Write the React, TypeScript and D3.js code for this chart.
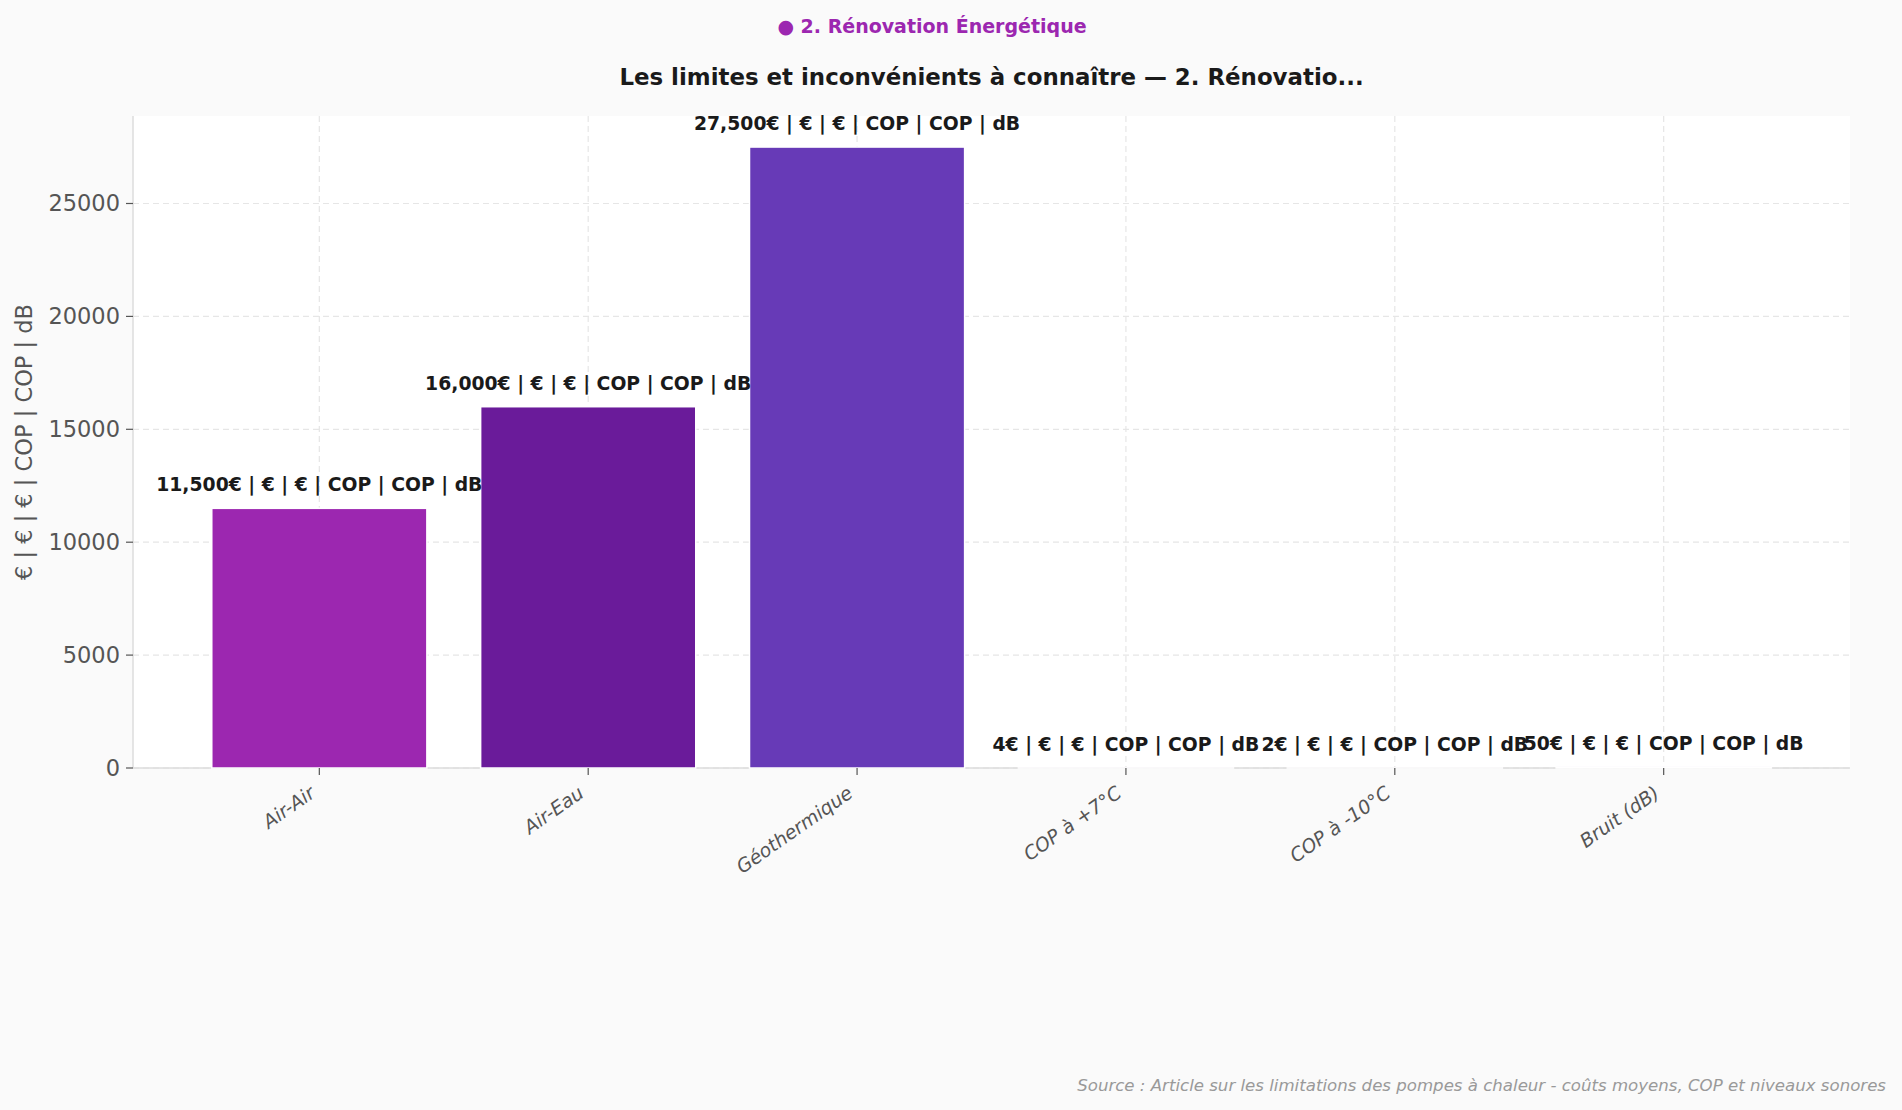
import * as d3 from "d3";
import React from "react";

const categories = ["Air-Air", "Air-Eau", "Géothermique", "COP à +7°C", "COP à -10°C", "Bruit (dB)"];
const values = [11500, 16000, 27500, 4, 2, 50];
const barColors = ["#9c27b0", "#6a1b9a", "#673ab7", "#7b1fa2", "#8e24aa", "#512da8"];
const units = ["€", "€", "€", "COP", "COP", "dB"];
const yTicks = [0, 5000, 10000, 15000, 20000, 25000];

const subtitle = "● 2. Rénovation Énergétique";
const title = "Les limites et inconvénients à connaître — 2. Rénovatio...";
const source = "Source : Article sur les limitations des pompes à chaleur - coûts moyens, COP et niveaux sonores";

export default function App() {
    const width = 1902;
    const height = 1110;
    const left = 133;
    const right = 1850;
    const top = 116;
    const bottom = 768;
    const font = "DejaVu Sans, sans-serif";

    const xScale = d3
        .scaleBand()
        .domain(categories)
        .range([left, right])
        .paddingInner(0.2)
        .paddingOuter(0.293);

    const yMax = d3.max(values) * 1.05;
    const yScale = d3.scaleLinear().domain([0, yMax]).range([bottom, top]);

    const fmt = d3.format(",");
    const unitText = units.join(" | ");
    const cx = (c) => xScale(c) + xScale.bandwidth() / 2;

    return (
        <svg
            width={width}
            height={height}
            style={{ position: "absolute", left: 0, top: 0, display: "block" }}
            fontFamily={font}
        >
            <rect x={0} y={0} width={width} height={height} fill="#fafafa" />
            <rect x={left} y={top} width={right - left} height={bottom - top} fill="#ffffff" />

            {/* grid */}
            {yTicks.map((t) => (
                <line key={"gy" + t} x1={left} x2={right} y1={yScale(t)} y2={yScale(t)}
                    stroke="#e6e6e6" strokeWidth={1.2} strokeDasharray="6,4" />
            ))}
            {categories.map((c) => (
                <line key={"gx" + c} x1={cx(c)} x2={cx(c)} y1={top} y2={bottom}
                    stroke="#e6e6e6" strokeWidth={1.2} strokeDasharray="6,4" />
            ))}

            {/* spines */}
            <line x1={left} x2={left} y1={top} y2={bottom} stroke="#dddddd" strokeWidth={1.5} />
            <line x1={left} x2={right} y1={bottom} y2={bottom} stroke="#dddddd" strokeWidth={1.5} />

            {/* bars */}
            {categories.map((c, i) => (
                <rect key={"b" + c}
                    x={xScale(c)}
                    y={yScale(values[i])}
                    width={xScale.bandwidth()}
                    height={bottom - yScale(values[i])}
                    fill={barColors[i]}
                    stroke="#ffffff"
                    strokeWidth={1.5}
                />
            ))}

            {/* bar labels */}
            {categories.map((c, i) => (
                <text key={"l" + c} x={cx(c)} y={yScale(values[i]) - 17}
                    textAnchor="middle" fontWeight="bold" fontSize={18.8} fill="#1a1a1a">
                    {fmt(values[i]) + unitText}
                </text>
            ))}

            {/* y axis */}
            {yTicks.map((t) => (
                <g key={"yt" + t}>
                    <line x1={left - 7} x2={left} y1={yScale(t)} y2={yScale(t)} stroke="#555" strokeWidth={1.2} />
                    <text x={left - 13} y={yScale(t)} dy="0.35em" textAnchor="end" fontSize={22.5} fill="#555">
                        {t}
                    </text>
                </g>
            ))}
            <text transform={`translate(32, ${(top + bottom) / 2}) rotate(-90)`} textAnchor="middle"
                fontSize={22.5} fill="#555">
                {unitText}
            </text>

            {/* x axis */}
            {categories.map((c) => (
                <g key={"xt" + c}>
                    <line x1={cx(c)} x2={cx(c)} y1={bottom} y2={bottom + 7} stroke="#555" strokeWidth={1.2} />
                    <text transform={`translate(${cx(c) - 3}, ${bottom + 28}) rotate(-35)`}
                        textAnchor="end" fontSize={19} fontStyle="italic" fill="#555">
                        {c}
                    </text>
                </g>
            ))}

            {/* titles */}
            <text x={932} y={33} textAnchor="middle" fontWeight="bold" fontSize={19} fill="#9c27b0">
                {subtitle}
            </text>
            <text x={(left + right) / 2} y={85} textAnchor="middle" fontWeight="bold" fontSize={22.9} fill="#1a1a1a">
                {title}
            </text>
            <text x={1886} y={1091} textAnchor="end" fontStyle="italic" fontSize={16.6} fill="#999">
                {source}
            </text>
        </svg>
    );
}
